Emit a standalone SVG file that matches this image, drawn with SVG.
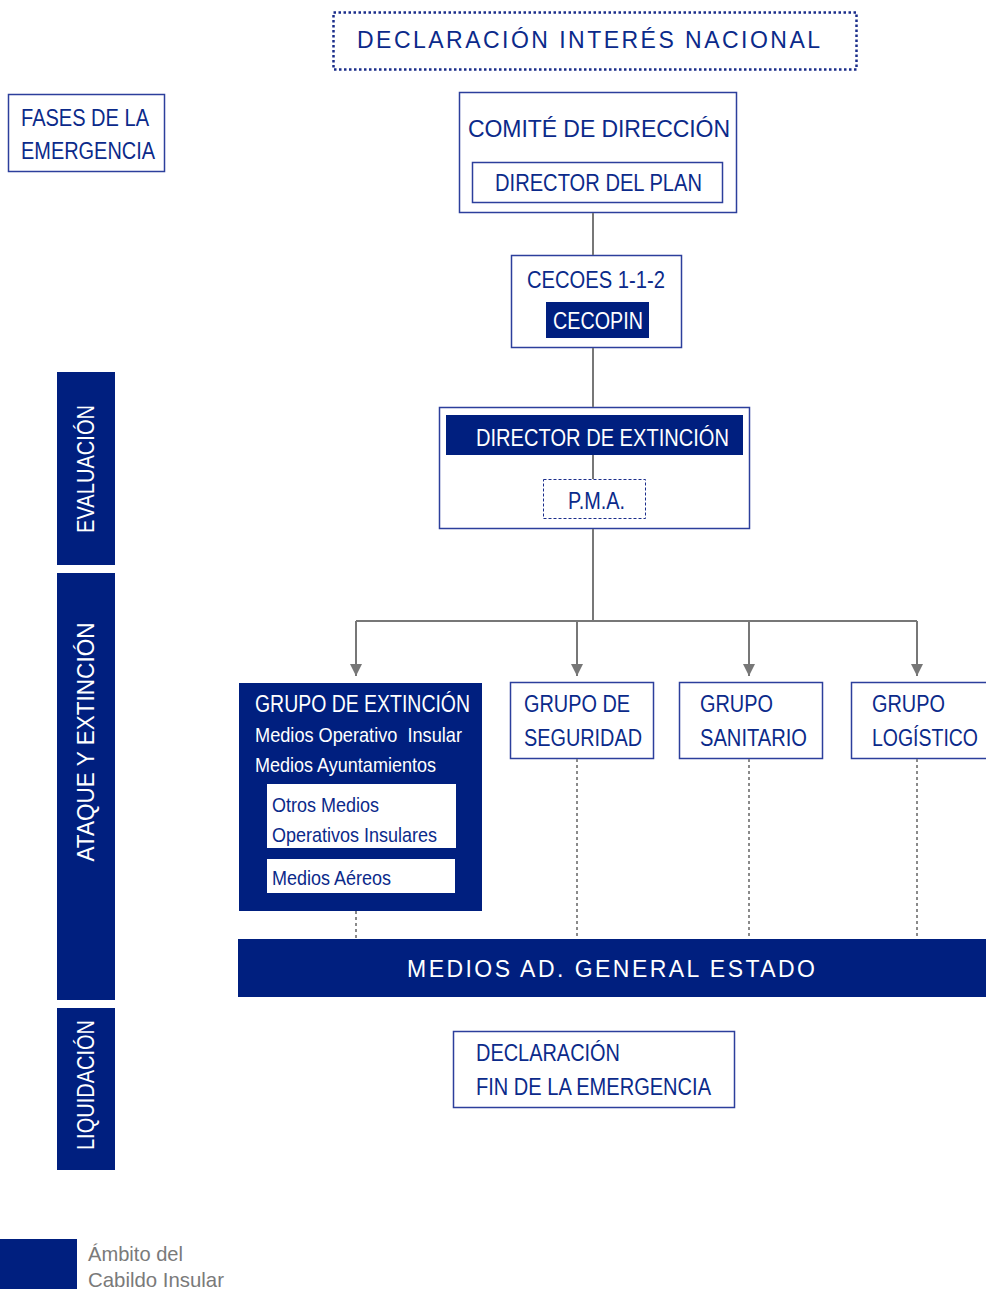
<svg xmlns="http://www.w3.org/2000/svg" width="986" height="1289" viewBox="0 0 986 1289">
<style>
text{font-family:"Liberation Sans",Arial,sans-serif;font-size:23px;fill:#0b2a8a}
.w{fill:#ffffff}
.s{font-size:21px}
.box{fill:#ffffff;stroke:#2c3f9c;stroke-width:1.5}
.dark{fill:#001f7f}
.con{fill:none;stroke:#777777;stroke-width:2}
.dot{fill:none;stroke:#8a8a8a;stroke-width:2;stroke-dasharray:3 3}
.leg{fill:#7a7a7a;font-size:21px}
</style>
<defs>
<marker id="arr" markerUnits="userSpaceOnUse" markerWidth="12" markerHeight="12" refX="12" refY="6" orient="auto">
<path d="M0,0 L12,6 L0,12 z" fill="#777777"/>
</marker>
</defs>
<rect width="986" height="1289" fill="#ffffff"/>

<g id="interes-nacional">
<rect x="333.5" y="12.5" width="523" height="57" fill="none" stroke="#1a2d8a" stroke-width="2.5" stroke-dasharray="2.5 2.5"/>
<text x="357" y="48" font-size="22" textLength="463" lengthAdjust="spacing">DECLARACIÓN INTERÉS NACIONAL</text>
</g>

<g id="fases">
<rect class="box" x="8.5" y="94.5" width="156" height="77"/>
<text x="21" y="126" textLength="128" lengthAdjust="spacingAndGlyphs">FASES DE LA</text>
<text x="21" y="159" textLength="134" lengthAdjust="spacingAndGlyphs">EMERGENCIA</text>
</g>

<g id="comite">
<rect class="box" x="459.5" y="92.5" width="277" height="120"/>
<text x="468" y="137" font-size="22" textLength="262" lengthAdjust="spacing">COMITÉ DE DIRECCIÓN</text>
<rect class="box" x="472.5" y="162.5" width="250" height="40"/>
<text x="495" y="191" font-size="24" textLength="207" lengthAdjust="spacingAndGlyphs">DIRECTOR DEL PLAN</text>
</g>

<g id="cecoes">
<rect class="box" x="511.5" y="255.5" width="170" height="92"/>
<text x="527" y="288" textLength="138" lengthAdjust="spacingAndGlyphs">CECOES 1-1-2</text>
<rect class="dark" x="546" y="302" width="103" height="36"/>
<text class="w" x="553" y="329" textLength="90" lengthAdjust="spacingAndGlyphs">CECOPIN</text>
</g>

<g id="director-extincion">
<rect class="box" x="439.5" y="407.5" width="310" height="121"/>
<rect class="dark" x="446" y="415" width="297" height="40"/>
<text class="w" x="476" y="446" font-size="22" textLength="253" lengthAdjust="spacingAndGlyphs">DIRECTOR DE EXTINCIÓN</text>
<rect x="543.5" y="479.5" width="102" height="39" fill="#ffffff" stroke="#1a2d8a" stroke-width="1" stroke-dasharray="3 2"/>
<text x="568" y="509" font-size="22" textLength="57" lengthAdjust="spacingAndGlyphs">P.M.A.</text>
</g>

<g id="fase-evaluacion">
<rect class="dark" x="57" y="372" width="58" height="193"/>
<text class="w" transform="translate(94,469) rotate(-90)" x="0" y="0" text-anchor="middle" textLength="128" lengthAdjust="spacingAndGlyphs">EVALUACIÓN</text>
</g>
<g id="fase-ataque">
<rect class="dark" x="57" y="573" width="58" height="427"/>
<text class="w" transform="translate(94,742) rotate(-90)" x="0" y="0" text-anchor="middle" textLength="239" lengthAdjust="spacingAndGlyphs">ATAQUE Y EXTINCIÓN</text>
</g>
<g id="fase-liquidacion">
<rect class="dark" x="57" y="1008" width="58" height="162"/>
<text class="w" transform="translate(94,1085) rotate(-90)" x="0" y="0" text-anchor="middle" textLength="130" lengthAdjust="spacingAndGlyphs">LIQUIDACIÓN</text>
</g>

<g id="grupo-extincion">
<rect class="dark" x="239" y="683" width="243" height="228"/>
<text class="w" x="255" y="712" textLength="215" lengthAdjust="spacingAndGlyphs">GRUPO DE EXTINCIÓN</text>
<text class="w s" x="255" y="742" textLength="207" lengthAdjust="spacingAndGlyphs">Medios Operativo&#160; Insular</text>
<text class="w s" x="255" y="772" textLength="181" lengthAdjust="spacingAndGlyphs">Medios Ayuntamientos</text>
<rect x="267" y="784" width="189" height="64" fill="#ffffff"/>
<text class="s" x="272" y="812" textLength="107" lengthAdjust="spacingAndGlyphs">Otros Medios</text>
<text class="s" x="272" y="842" textLength="165" lengthAdjust="spacingAndGlyphs">Operativos Insulares</text>
<rect x="267" y="859" width="188" height="34" fill="#ffffff"/>
<text class="s" x="272" y="885" textLength="119" lengthAdjust="spacingAndGlyphs">Medios Aéreos</text>
</g>

<g id="grupo-seguridad">
<rect class="box" x="510.5" y="682.5" width="143" height="76"/>
<text x="524" y="712" textLength="106" lengthAdjust="spacingAndGlyphs">GRUPO DE</text>
<text x="524" y="746" textLength="118" lengthAdjust="spacingAndGlyphs">SEGURIDAD</text>
</g>

<g id="grupo-sanitario">
<rect class="box" x="679.5" y="682.5" width="143" height="76"/>
<text x="700" y="712" textLength="73" lengthAdjust="spacingAndGlyphs">GRUPO</text>
<text x="700" y="746" textLength="107" lengthAdjust="spacingAndGlyphs">SANITARIO</text>
</g>

<g id="grupo-logistico">
<rect class="box" x="851.5" y="682.5" width="150" height="76"/>
<text x="872" y="712" textLength="73" lengthAdjust="spacingAndGlyphs">GRUPO</text>
<text x="872" y="746" textLength="106" lengthAdjust="spacingAndGlyphs">LOGÍSTICO</text>
</g>

<g id="medios-estado">
<rect class="dark" x="238" y="939" width="760" height="58"/>
<text class="w" x="407" y="977" font-size="22" textLength="408" lengthAdjust="spacing">MEDIOS AD. GENERAL ESTADO</text>
</g>

<g id="fin-emergencia">
<rect class="box" x="453.5" y="1031.5" width="281" height="76"/>
<text x="476" y="1061" textLength="144" lengthAdjust="spacingAndGlyphs">DECLARACIÓN</text>
<text x="476" y="1095" textLength="235" lengthAdjust="spacingAndGlyphs">FIN DE LA EMERGENCIA</text>
</g>

<g id="leyenda">
<rect class="dark" x="0" y="1239" width="77" height="50"/>
<text class="leg" x="88" y="1261" textLength="95" lengthAdjust="spacingAndGlyphs">Ámbito del</text>
<text class="leg" x="88" y="1287" textLength="136" lengthAdjust="spacingAndGlyphs">Cabildo Insular</text>
</g>

<g id="connectors">
<path class="con" d="M593,213 V255"/>
<path class="con" d="M593,348 V407"/>
<path class="con" d="M593,455 V479"/>
<path class="con" d="M593,529 V621"/>
<path class="con" d="M356,621 H917"/>
<path class="con" d="M356,621 V676" marker-end="url(#arr)"/>
<path class="con" d="M577,621 V676" marker-end="url(#arr)"/>
<path class="con" d="M749,621 V676" marker-end="url(#arr)"/>
<path class="con" d="M917,621 V676" marker-end="url(#arr)"/>
<path class="dot" d="M356,911 V939"/>
<path class="dot" d="M577,759 V939"/>
<path class="dot" d="M749,759 V939"/>
<path class="dot" d="M917,759 V939"/>
</g>
</svg>
